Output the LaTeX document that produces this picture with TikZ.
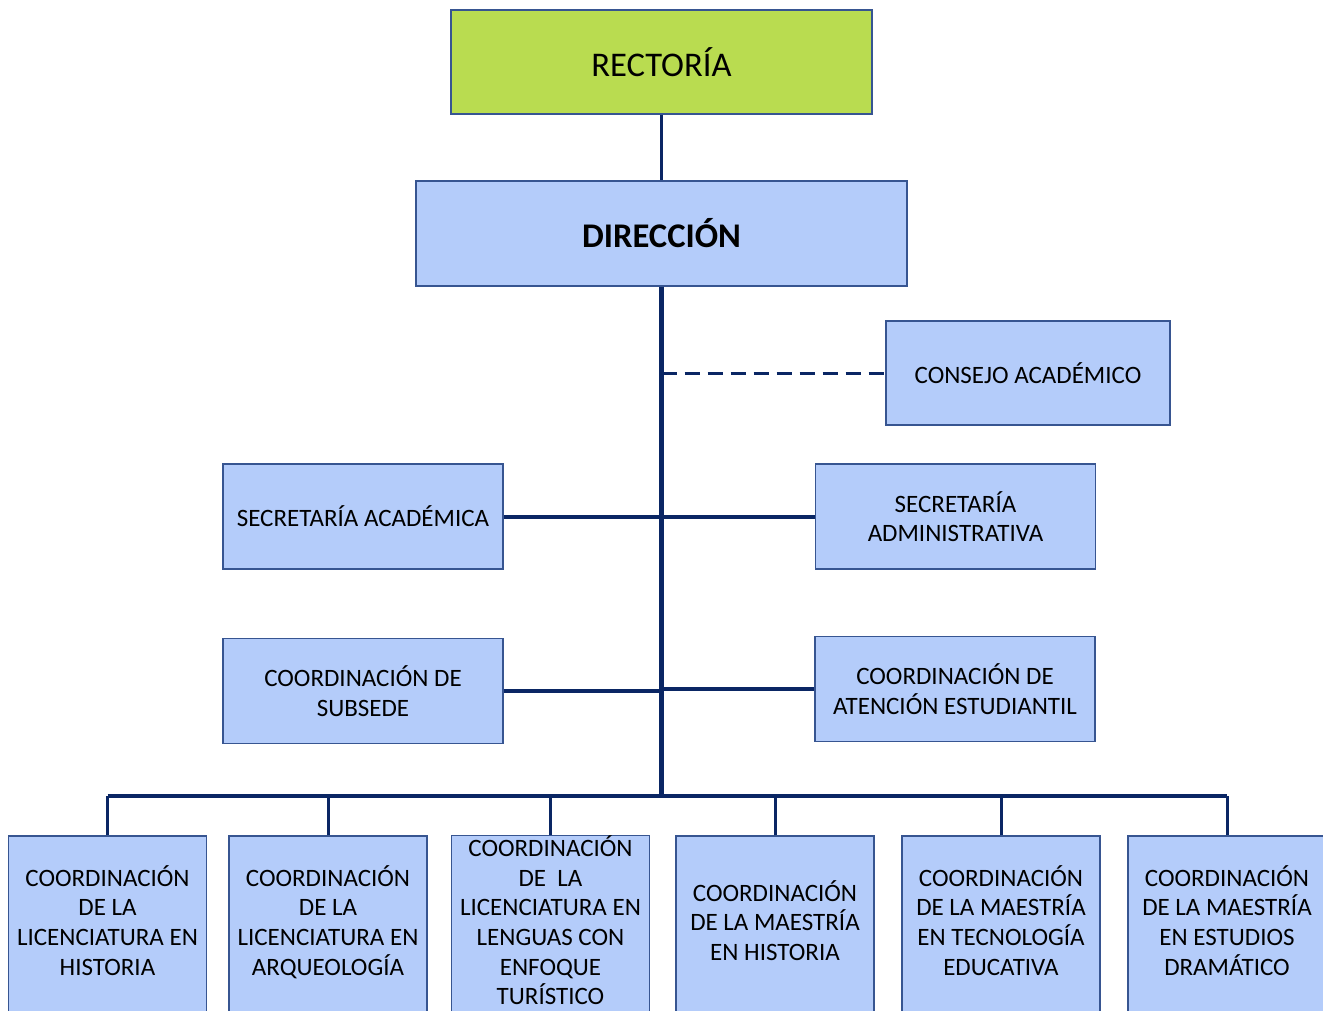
\documentclass[tikz,border=0pt]{standalone}
\usepackage{fontspec}
\setmainfont{Carlito}
\definecolor{boxblue}{RGB}{180,204,250}
\definecolor{boxgreen}{RGB}{185,220,80}
\definecolor{edgeblue}{RGB}{55,85,145}
\definecolor{linenavy}{RGB}{10,38,100}

\begin{document}
\begin{tikzpicture}[x=0.5pt, y=-0.5pt,
            every node/.style={draw=edgeblue, line width=0.7pt, fill=boxblue,
              align=center, inner sep=0pt, font=\fontsize{12.5}{14.8}\selectfont},
            topbox/.style={fill=boxgreen, minimum width=210.5pt, minimum height=52pt,
              font=\fontsize{17.3}{20}\selectfont},
            headbox/.style={minimum width=245.5pt, minimum height=52.5pt,
              font=\fontsize{17.3}{20}\selectfont\bfseries},
            sidebox/.style={minimum width=140pt, minimum height=52.5pt},
            unitbox/.style={minimum width=99pt, minimum height=89pt, text depth=4.8pt},
            link/.style={draw=linenavy, line width=1.5pt},
            trunk/.style={draw=linenavy, line width=2.5pt},
            branch/.style={draw=linenavy, line width=2pt},
            advice/.style={draw=linenavy, line width=1.5pt, dash pattern=on 7.5pt off 4pt}
          ]
          \clip (0,0) rectangle (1323,1011);

          \node[topbox] (rect) at (661.5,62) {RECTORÍA};
          \node[headbox] (dir) at (661.5,233.5) {DIRECCIÓN};
          \node[sidebox, minimum width=142pt, minimum height=52pt] (consejo) at (1028,373) {CONSEJO ACADÉMICO};
          \node[sidebox] (secacad) at (363,516.5) {SECRETARÍA ACADÉMICA};
          \node[sidebox] (secadm) at (955.5,516.5) {SECRETARÍA\\ADMINISTRATIVA};
          \node[sidebox] (subsede) at (363,691) {COORDINACIÓN DE\\SUBSEDE};
          \node[sidebox] (atencion) at (955,689) {COORDINACIÓN DE\\ATENCIÓN ESTUDIANTIL};

          \node[unitbox] (lich) at (107.5,925) {COORDINACIÓN\\DE LA\\LICENCIATURA EN\\HISTORIA};
          \node[unitbox] (lica) at (328,925) {COORDINACIÓN\\DE LA\\LICENCIATURA EN\\ARQUEOLOGÍA};
          \node[unitbox] (licl) at (550.5,925) {COORDINACIÓN\\DE\ \ LA\\LICENCIATURA EN\\LENGUAS CON\\ENFOQUE\\TURÍSTICO};
          \node[unitbox] (mah) at (775,925) {COORDINACIÓN\\DE LA MAESTRÍA\\EN HISTORIA};
          \node[unitbox] (mat) at (1001,925) {COORDINACIÓN\\DE LA MAESTRÍA\\EN TECNOLOGÍA\\EDUCATIVA};
          \node[unitbox] (mae) at (1227,925) {COORDINACIÓN\\DE LA MAESTRÍA\\EN ESTUDIOS\\DRAMÁTICO};

          \coordinate (bus) at (661.5,796);

          \draw[link] (rect.south) -- (dir.north);
          \draw[trunk] (dir.south) -- (dir.south |- bus);
          \draw[advice] (consejo.west -| dir.south) -- (consejo.west);
          \draw[branch] (secacad.east) -- (secadm.west);
          \draw[branch] (subsede.east) -- (subsede.east -| dir.south);
          \draw[branch] (atencion.west) -- (atencion.west -| dir.south);

          % bus to the coordinations
          \draw[branch, line width=1.75pt] (lich.north |- bus) -- (mae.north |- bus);
          \foreach \n in {lich,lica,licl,mah,mat,mae}
            \draw[link] (\n.north) -- (\n.north |- bus);
          \end{tikzpicture}
\end{document}
